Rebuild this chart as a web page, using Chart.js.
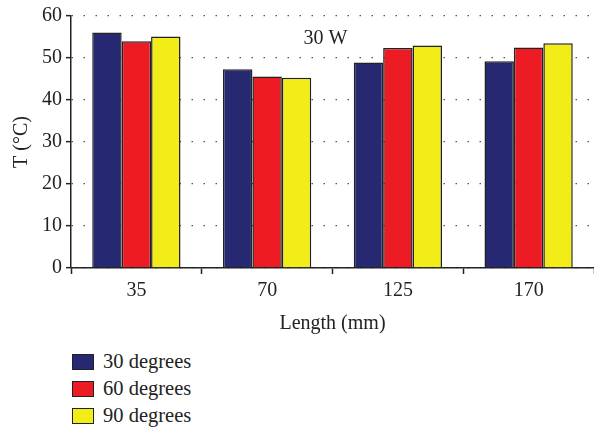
<!DOCTYPE html>
<html>
<head>
<meta charset="utf-8">
<script src="https://cdn.jsdelivr.net/npm/chart.js@4.4.1/dist/chart.umd.min.js"></script>
<style>
    body { margin: 0; background: #fff; }
    #wrap { position: relative; width: 594px; height: 430px; }
    #box { position: absolute; left: 0; top: 0; width: 594px; height: 340px; }
    #legend { position: absolute; left: 72px; top: 348px; font-family: 'Liberation Serif', serif; font-size: 20.5px; color: #222; }
    .item { height: 27px; display: flex; align-items: center; }
    .swatch { width: 20px; height: 14px; border: 1.5px solid #222; margin-right: 9px; }
</style>
</head>
<body>
<div id="wrap">
    <div id="box"><canvas id="graph"></canvas></div>
    <div id="legend"></div>
</div>
<script>
const lengths = ['35', '70', '125', '170'];
const deg30 = [56.1, 47.3, 48.9, 49.2];
const deg60 = [54.0, 45.6, 52.4, 52.5];
const deg90 = [55.1, 45.3, 53.0, 53.5];
const yTicks = [0, 10, 20, 30, 40, 50, 60];

const serif = 'Liberation Serif';
const ink = '#222';

// "30 W" label sits inside the plot area
const powerLabel = {
    id: 'powerLabel',
    afterDraw: function (chart) {
        const ctx = chart.ctx;
        const x = chart.scales.x;
        const y = chart.scales.y;
        ctx.save();
        ctx.font = '20px ' + serif;
        ctx.fillStyle = ink;
        ctx.textAlign = 'center';
        ctx.textBaseline = 'middle';
        ctx.fillText('30 W', (x.left + x.right) / 2 - 7, y.getPixelForValue(54.5));
        ctx.restore();
    }
};

const context = document.getElementById('graph');
const chart = new Chart(context, {
    type: 'bar',
    data: {
        labels: lengths,
        datasets: [
            { label: '30 degrees', data: deg30, backgroundColor: '#262872' },
            { label: '60 degrees', data: deg60, backgroundColor: '#ED1C24' },
            { label: '90 degrees', data: deg90, backgroundColor: '#F2EC19' }
        ]
    },
    options: {
        responsive: true,
        maintainAspectRatio: false,
        animation: false,
        layout: { padding: { top: 12, right: 0, left: 10, bottom: 4 } },
        datasets: {
            bar: {
                categoryPercentage: 0.675,
                barPercentage: 1,
                borderColor: ink,
                borderWidth: 1.5
            }
        },
        plugins: {
            legend: { display: false },
            tooltip: { enabled: false }
        },
        scales: {
            x: {
                grid: {
                    drawOnChartArea: false,
                    offset: true,
                    tickLength: 6,
                    tickColor: ink,
                    tickWidth: 1.5
                },
                border: { color: ink, width: 1.5 },
                ticks: { color: ink, font: { family: serif, size: 20 }, padding: 5 },
                title: {
                    display: true,
                    text: 'Length (mm)',
                    color: ink,
                    font: { family: serif, size: 20 },
                    padding: { top: 4, bottom: 0 }
                }
            },
            y: {
                min: 0,
                max: 60,
                afterBuildTicks: function (axis) {
                    axis.ticks = yTicks.map(function (v) { return { value: v }; });
                },
                grid: {
                    color: '#555',
                    lineWidth: 1.3,
                    tickLength: 5,
                    tickColor: ink,
                    tickWidth: 1.5
                },
                border: { color: ink, width: 1.5, dash: [1.5, 10.5] },
                ticks: { color: ink, font: { family: serif, size: 20 }, padding: 4 },
                title: {
                    display: true,
                    text: 'T (°C)',
                    color: ink,
                    font: { family: serif, size: 20 },
                    padding: { top: 0, bottom: 4 }
                }
            }
        }
    },
    plugins: [powerLabel]
});

const legend = document.getElementById('legend');
chart.data.datasets.forEach(function (ds) {
    const item = document.createElement('div');
    item.className = 'item';
    const sw = document.createElement('span');
    sw.className = 'swatch';
    sw.style.background = ds.backgroundColor;
    item.appendChild(sw);
    item.appendChild(document.createTextNode(ds.label));
    legend.appendChild(item);
});
</script>
</body>
</html>
